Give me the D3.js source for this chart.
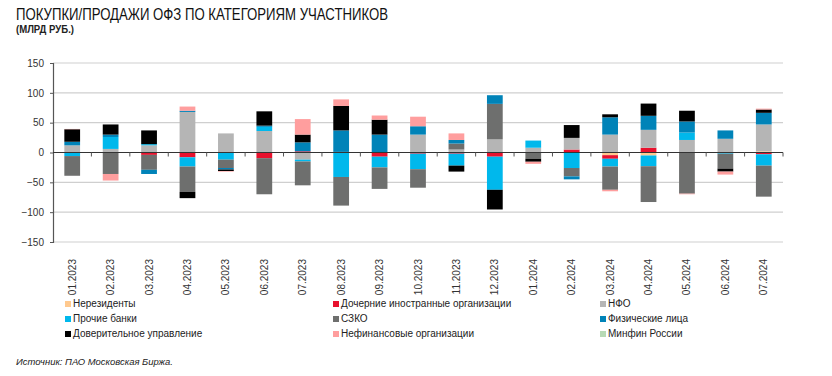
<!DOCTYPE html>
<html><head><meta charset="utf-8">
<script src="https://cdn.jsdelivr.net/npm/d3@7/dist/d3.min.js"></script>
<style>
body{margin:0;background:#fff;}
svg{display:block;}
text{font-family:"Liberation Sans",Arial,sans-serif;}
</style></head>
<body><svg id="c" width="832" height="376"></svg>
<script>
const categories = ["01.2023","02.2023","03.2023","04.2023","05.2023","06.2023","07.2023","08.2023","09.2023","10.2023","11.2023","12.2023","01.2024","02.2024","03.2024","04.2024","05.2024","06.2024","07.2024"];
const seriesNames = ["Нерезиденты","Дочерние иностранные организации","НФО","Прочие банки","СЗКО","Физические лица","Доверительное управление","Нефинансовые организации","Минфин России"];
const seriesColors = ["#FFC98E","#E8112D","#B5B5B5","#00B8EC","#6E6F6E","#0083B8","#000000","#FF9E9E","#B7DAB5"];
const nonResidents =   [0,0,0,0,0,0,0,0,0,0,0,0,0,0,-4.5,-5,0,0,2];
const foreignSubs =    [0,0,-4,-8,0,-9.5,2,1,-7,-2,-2,-7,0,5,-6,8,0,0,-3];
const nfo =            [12,6,12,68,32,36,-12,0,0,30,5,22,8,19.5,30,30,21,23,45];
const otherBanks =     [-6,20,2,-15.5,-12,7,-3,-41,-18,-26,-20,-55.5,12,-26,-13,-18,12.5,-2,-19];
const szko =           [-33,-36,-25,-42.5,-14,-60.5,-40,-48,-36,-31,10,59.5,-10.5,-14,-39,-60,-69,-25,-52];
const individuals =    [6,4,-7,2,-2.5,2,15,36,30,14,6,14.5,0,-5,29,23.5,18.5,14,19.5];
const trustMgmt =      [21,17,23,-10.5,-2.5,24,13,41,25,0,-10,-33,-5,21.5,5,20.5,18,-5,5.5];
const nonFinancial =   [0.5,-11,0,7,-1,0,26,11,7,16,11,0,-3.5,0,-2.5,0,-1,-5,1.5];
const minfin =         [0,0,0,0,0,0,0,0,0,0,0,0,0,0,0,0,0,0,0];
const yTicks = [150,100,50,0,-50,-100,-150];

const seriesValues = [nonResidents,foreignSubs,nfo,otherBanks,szko,individuals,trustMgmt,nonFinancial,minfin];
const rows = categories.map((c,i)=>{const r={cat:c}; seriesNames.forEach((n,j)=>r[n]=seriesValues[j][i]); return r;});

const svg = d3.select("#c");
const m = {left:53, right:783, top:63, bottom:242};
const x = d3.scaleBand().domain(categories).range([m.left,m.right]).paddingInner(0.59).paddingOuter(0.295);
const y = d3.scaleLinear().domain([-150,150]).range([m.bottom,m.top]);

// title
svg.append("text").attr("x",16).attr("y",20).attr("font-size",17).attr("fill","#111")
  .attr("textLength",372).attr("lengthAdjust","spacingAndGlyphs")
  .text("ПОКУПКИ/ПРОДАЖИ ОФЗ ПО КАТЕГОРИЯМ УЧАСТНИКОВ");
svg.append("text").attr("x",16).attr("y",33).attr("font-size",10).attr("font-weight","bold").attr("fill","#222")
  .attr("textLength",58).attr("lengthAdjust","spacingAndGlyphs")
  .text("(МЛРД РУБ.)");

// grid
svg.append("g").selectAll("line").data(yTicks.filter(d=>d!==0)).join("line")
  .attr("x1",m.left).attr("x2",m.right).attr("y1",d=>y(d)).attr("y2",d=>y(d))
  .attr("stroke","#cfcfcf").attr("stroke-width",1.2);

// y axis
const yAxis = svg.append("g").attr("transform",`translate(${m.left},0)`)
  .call(d3.axisLeft(y).tickValues(yTicks).tickSize(3).tickPadding(6));
yAxis.select(".domain").attr("stroke","#555").attr("stroke-width",1.2);
yAxis.selectAll(".tick line").attr("stroke","#555");
yAxis.selectAll("text").attr("font-size",10).attr("fill","#333").style("font-family","'Liberation Sans',Arial,sans-serif");

// bars
const stack = d3.stack().keys(seriesNames).offset(d3.stackOffsetDiverging);
const stacked = stack(rows);
svg.append("g").selectAll("g").data(stacked).join("g")
  .attr("fill",(d,i)=>seriesColors[i])
  .selectAll("rect").data(d=>d).join("rect")
  .attr("x",d=>x(d.data.cat)).attr("width",x.bandwidth())
  .attr("y",d=>y(Math.max(d[0],d[1]))).attr("height",d=>Math.abs(y(d[0])-y(d[1])));

// zero axis with ticks between categories
const step = x.step();
const bounds = d3.range(1,categories.length+1).map(i=>m.left+i*step);
svg.append("line").attr("x1",m.left).attr("x2",m.right).attr("y1",y(0)).attr("y2",y(0)).attr("stroke","#333").attr("stroke-width",1.2);
svg.append("g").selectAll("line").data(bounds).join("line")
  .attr("x1",d=>d).attr("x2",d=>d).attr("y1",y(0)).attr("y2",y(0)+4).attr("stroke","#555");

// x labels
svg.append("g").selectAll("text").data(categories).join("text")
  .attr("transform",d=>`translate(${x(d)+x.bandwidth()/2+3.5},${m.bottom+17}) rotate(-90)`)
  .attr("text-anchor","end").attr("font-size",10).attr("fill","#333").text(d=>d);

// legend
const cols=[65,333,600], rws=[307,322,337];
const lg = svg.append("g").selectAll("g").data(seriesNames).join("g")
  .attr("transform",(d,i)=>`translate(${cols[i%3]},${rws[Math.floor(i/3)]})`);
lg.append("rect").attr("x",0).attr("y",-6).attr("width",6).attr("height",6).attr("fill",(d,i)=>seriesColors[i]);
lg.append("text").attr("x",8).attr("y",0).attr("font-size",10).attr("fill","#222").text(d=>d);

// source
svg.append("text").attr("x",16).attr("y",365).attr("font-size",9.5).attr("font-style","italic").attr("fill","#222")
  .attr("textLength",157).attr("lengthAdjust","spacingAndGlyphs")
  .text("Источник: ПАО Московская Биржа.");
</script></body></html>
